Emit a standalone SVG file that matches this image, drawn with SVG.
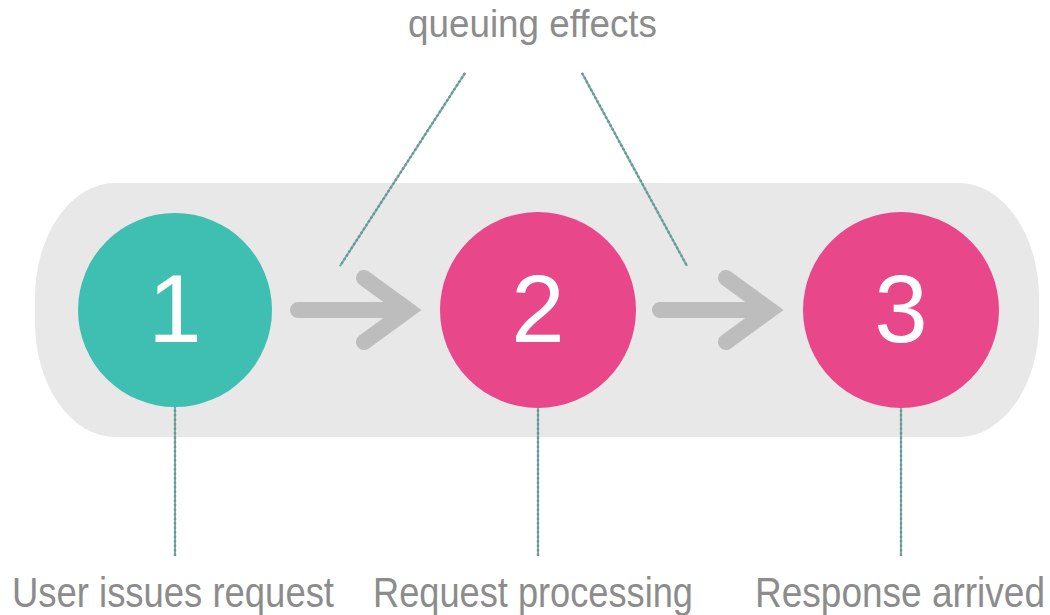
<svg xmlns="http://www.w3.org/2000/svg" width="1050" height="615" viewBox="0 0 1050 615">
  <style>
    .lbl { font-family: "Liberation Sans", Arial, sans-serif; fill: #8c8c8c; }
    .num { font-family: "Liberation Sans", Arial, sans-serif; fill: #ffffff; font-size: 96px; text-anchor: middle; }
    .arrow { fill: none; stroke: #bdbdbd; stroke-width: 16; stroke-linecap: round; stroke-linejoin: miter; }
    .dotbase { stroke: #4cc4b4; stroke-width: 2; fill: none; }
    .dot { stroke: #8a8a8a; stroke-width: 2.4; stroke-dasharray: 2.5 2; fill: none; }
  </style>
  <rect width="1050" height="615" fill="#ffffff"/>
  <rect id="band" x="35" y="183" width="1004" height="254" rx="80" ry="115" fill="#e8e8e8"/>

  <g id="connectors">
    <path class="arrow" d="M298 310 H405 M364 278 L408 310 L364 342"/>
    <path class="arrow" d="M660 310 H767 M726 278 L770 310 L726 342"/>
    <line class="dotbase" x1="465" y1="73" x2="340" y2="266"/>
    <line class="dot" x1="465" y1="73" x2="340" y2="266"/>
    <line class="dotbase" x1="582" y1="73" x2="687" y2="266"/>
    <line class="dot" x1="582" y1="73" x2="687" y2="266"/>
    <line class="dotbase" x1="175" y1="405" x2="175" y2="556"/>
    <line class="dot" x1="175" y1="405" x2="175" y2="556"/>
    <line class="dotbase" x1="538" y1="405" x2="538" y2="556"/>
    <line class="dot" x1="538" y1="405" x2="538" y2="556"/>
    <line class="dotbase" x1="901" y1="405" x2="901" y2="556"/>
    <line class="dot" x1="901" y1="405" x2="901" y2="556"/>
  </g>

  <g id="node1">
    <circle cx="175" cy="310" r="97" fill="#3ebfb2"/>
    <text class="num" x="175" y="342">1</text>
  </g>
  <g id="node2">
    <circle cx="538" cy="310" r="98" fill="#e8488a"/>
    <text class="num" x="538" y="342">2</text>
  </g>
  <g id="node3">
    <circle cx="901" cy="310" r="98" fill="#e8488a"/>
    <text class="num" x="901" y="342">3</text>
  </g>

  <g id="labels">
    <text class="lbl" x="408" y="37" font-size="38" textLength="249" lengthAdjust="spacingAndGlyphs">queuing effects</text>
    <text class="lbl" x="12" y="607" font-size="43" textLength="322" lengthAdjust="spacingAndGlyphs">User issues request</text>
    <text class="lbl" x="373" y="607" font-size="43" textLength="320" lengthAdjust="spacingAndGlyphs">Request processing</text>
    <text class="lbl" x="755" y="607" font-size="43" textLength="290" lengthAdjust="spacingAndGlyphs">Response arrived</text>
  </g>
</svg>
